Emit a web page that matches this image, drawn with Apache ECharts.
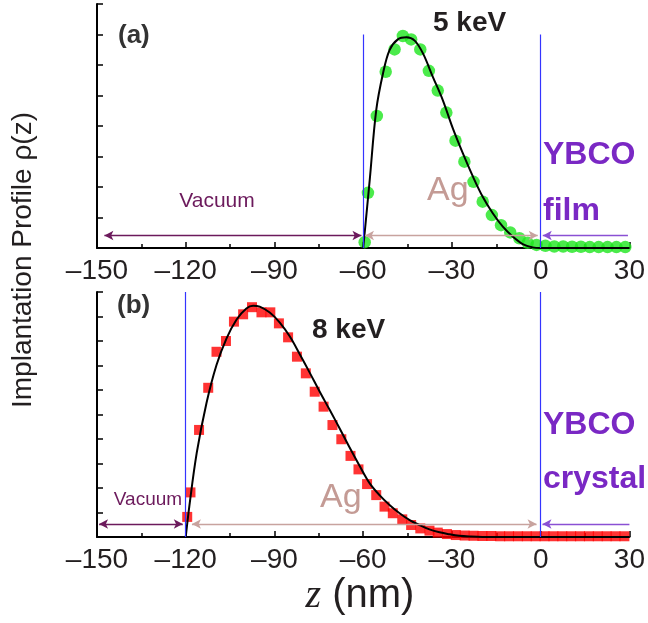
<!DOCTYPE html>
<html><head><meta charset="utf-8">
<script src="https://cdn.jsdelivr.net/npm/echarts@6/dist/echarts.min.js"></script>
<style>html,body{margin:0;padding:0;background:#fff}#c{width:648px;height:623px}</style>
</head><body><div id="c"></div>
<script>
// x-axis ticks (nm)
const xMin = -150, xMax = 30, xStep = 30;
// panel (a): 5 keV, measured points (green) and fit (black)
const greenX = [-59.5,-58.4,-55.4,-52.4,-49.4,-46.6,-43.8,-40.7,-37.8,-34.8,-31.9,-28.8,-25.8,-22.7,-19.6,-16.5,-13.4,-10.3,-7.2,-4.4,-1.4,1.6,4.6,7.6,10.6,13.6,16.6,19.6,22.6,25.6,28.6];
const greenY = [0.19,1.81,4.33,5.78,6.51,6.95,6.84,6.51,5.81,5.16,4.44,3.52,2.83,2.17,1.52,1.08,0.75,0.51,0.32,0.17,0.10,0.07,0.05,0.05,0.04,0.04,0.03,0.03,0.03,0.03,0.03];
const fitAX = [-60,-57.8,-55.6,-53.3,-51.1,-48.3,-45.4,-42.6,-39.8,-36.5,-33.1,-29.7,-26.3,-22.9,-19.6,-16.2,-12.8,-9.4,-6.1,-2.7,0,30];
const fitAY = [0,2.23,4.52,5.73,6.49,6.84,6.91,6.80,6.38,5.62,4.85,3.92,3.10,2.34,1.68,1.14,0.70,0.37,0.13,0.02,0,0];
// panel (b): 8 keV, measured points (red) and fit (black)
const redX = [-119.5,-118.4,-115.5,-112.4,-109.6,-106.4,-103.7,-100.6,-97.6,-94.4,-91.4,-88.5,-85.4,-82.4,-79.4,-76.4,-73.4,-70.4,-67.4,-64.3,-61.6,-58.7,-55.6,-52.8,-50.0,-46.8,-43.8,-40.7,-37.6,-34.8,-31.7,-28.7,-25.7,-22.7,-19.7,-16.7,-13.7,-10.7,-7.7,-4.7,-1.7,1.3,4.3,7.3,10.3,13.3,16.3,19.3,22.3,25.3,28.3];
const redY = [0.82,1.82,4.37,6.09,7.56,8.0,8.79,9.09,9.38,9.17,9.17,8.72,8.15,7.36,6.68,5.93,5.32,4.57,3.99,3.31,2.76,2.16,1.71,1.24,0.97,0.72,0.49,0.35,0.26,0.18,0.12,0.08,0.06,0.05,0.04,0.04,0.03,0.03,0.03,0.03,0.03,0.03,0.03,0.03,0.03,0.03,0.03,0.03,0.03,0.03,0.03];
const fitBX = [-120,-118.8,-116.3,-113.0,-109.6,-106.2,-102.8,-99.5,-97.2,-95.0,-91.6,-88.2,-84.8,-81.5,-78.1,-74.7,-71.3,-68.0,-64.6,-61.2,-57.8,-54.5,-51.1,-47.7,-44.3,-41.0,-37.6,-34.2,-30.8,-27.5,-24.1,-19.7,0,30];
const fitBY = [0,1.24,3.42,5.46,7.02,8.11,8.88,9.33,9.44,9.40,9.16,8.75,8.18,7.47,6.71,5.93,5.18,4.44,3.65,2.90,2.19,1.71,1.31,0.97,0.69,0.49,0.31,0.19,0.11,0.05,0.02,0,0,0];
// region boundaries and arrow spans
const boundA = [-60, 0], boundB = [-120, 0];
const arrowYA = 0.41, arrowYB = 0.53;
const vacA = [-147.5, -60.6], agA = [-59.4, -1.0], ybA = [0.7, 29.5];
const vacB = [-149.3, -121], agB = [-117.9, -1.4], ybB = [0.6, 30];

const zip = (xs, ys) => xs.map((x, i) => [x, ys[i]]);
const SANS = '"Liberation Sans", Arial, Helvetica, sans-serif';
const C_VAC = '#6c1a5c', C_AG = '#c8a39f', C_AGT = '#c49b95', C_YB = '#8a50d4', C_YBT = '#7a28c4', C_BL = '#3434ff';

function xAxis(gi) {
  return {
    type: 'value', gridIndex: gi, min: xMin, max: xMax, interval: xStep,
    axisLine: { show: true, lineStyle: { color: '#000', width: 2 } },
    axisTick: { show: true, inside: true, length: 6, lineStyle: { color: '#000', width: 1.5 } },
    minorTick: { show: true, splitNumber: 2, length: 4, lineStyle: { color: '#000', width: 1.5 } },
    axisLabel: { fontSize: 28, fontFamily: SANS, color: '#231f20', margin: 9,
      formatter: v => (v < 0 ? '\u2013' + Math.abs(v) : String(v)) },
    splitLine: { show: false }
  };
}
function yAxis(gi, max) {
  return {
    type: 'value', gridIndex: gi, min: 0, max: max, interval: 1,
    axisLine: { show: true, onZero: false, lineStyle: { color: '#000', width: 2 } },
    axisTick: { show: true, inside: true, length: 6, lineStyle: { color: '#000', width: 1.5 } },
    axisLabel: { show: false }, splitLine: { show: false }
  };
}
function seg(a, b, y, color, s1, s2) {
  return [{ coord: [a, y], symbol: s1, lineStyle: { color, width: 1.3, type: 'solid' } },
          { coord: [b, y], symbol: s2 }];
}
function vline(x, top) {
  return [{ coord: [x, 0], symbol: 'none', lineStyle: { color: C_BL, width: 1.2, type: 'solid' } },
          { coord: [x, top], symbol: 'none' }];
}
function marks(bounds, top, yA, vac, ag, yb) {
  return {
    silent: true, symbolSize: [7, 9], label: { show: false }, emphasis: { disabled: true },
    data: [vline(bounds[0], top), vline(bounds[1], top),
      seg(vac[0], vac[1], yA, C_VAC, 'arrow', 'arrow'),
      seg(ag[0], ag[1], yA, C_AG, 'arrow', 'arrow'),
      seg(yb[0], yb[1], yA, C_YB, 'arrow', 'none')]
  };
}
function txt(text, x, y, font, color, align) {
  return { type: 'text', x: x, y: y, silent: true,
    style: { text, font, fill: color, textAlign: align || 'left', textVerticalAlign: 'middle' } };
}

const option = {
  animation: false,
  grid: [
    { left: 97, top: 4, width: 533, height: 244 },
    { left: 97, top: 292, width: 533, height: 245 }
  ],
  xAxis: [xAxis(0), xAxis(1)],
  yAxis: [yAxis(0, 8), yAxis(1, 10)],
  series: [
    { type: 'line', xAxisIndex: 0, yAxisIndex: 0, data: [], markLine: marks(boundA, 7, arrowYA, vacA, agA, ybA) },
    { type: 'line', xAxisIndex: 1, yAxisIndex: 1, data: [], markLine: marks(boundB, 10, arrowYB, vacB, agB, ybB) },
    { type: 'scatter', xAxisIndex: 0, yAxisIndex: 0, data: zip(greenX, greenY), symbol: 'circle', symbolSize: 12.5,
      itemStyle: { color: '#1ee61e' }, z: 3 },
    { type: 'scatter', xAxisIndex: 1, yAxisIndex: 1, data: zip(redX, redY), symbol: 'rect', symbolSize: 10,
      itemStyle: { color: '#ff0000' }, z: 3 },
    { type: 'line', xAxisIndex: 0, yAxisIndex: 0, data: zip(fitAX, fitAY), smooth: 0.35, showSymbol: false,
      lineStyle: { color: '#000', width: 2 }, z: 4 },
    { type: 'line', xAxisIndex: 1, yAxisIndex: 1, data: zip(fitBX, fitBY), smooth: 0.35, showSymbol: false,
      lineStyle: { color: '#000', width: 2 }, z: 4 }
  ],
  graphic: [
    txt('(a)', 118, 36, 'bold 26px ' + SANS, '#333'),
    txt('5 keV', 433, 23, 'bold 28px ' + SANS, '#231f20'),
    txt('Vacuum', 217, 201, '21px ' + SANS, C_VAC, 'center'),
    txt('Ag', 427, 191, '34px ' + SANS, C_AGT),
    txt('YBCO', 543, 155, 'bold 32px ' + SANS, C_YBT),
    txt('film', 543, 211, 'bold 32px ' + SANS, C_YBT),
    txt('(b)', 117, 306, 'bold 26px ' + SANS, '#333'),
    txt('8 keV', 312, 330, 'bold 28px ' + SANS, '#231f20'),
    txt('Vacuum', 148, 500, '19px ' + SANS, C_VAC, 'center'),
    txt('Ag', 320, 498, '34px ' + SANS, C_AGT),
    txt('YBCO', 543, 425, 'bold 32px ' + SANS, C_YBT),
    txt('crystal', 543, 479, 'bold 32px ' + SANS, C_YBT),
    { type: 'text', x: 23, y: 260, rotation: Math.PI / 2, silent: true,
      style: { text: 'Implantation Profile \u03c1(z)', font: '28px ' + SANS, fill: '#231f20',
        textAlign: 'center', textVerticalAlign: 'middle' } },
    { type: 'text', x: 360, y: 596, silent: true,
      style: { text: '{z|z}{n|\u00a0(nm)}', fill: '#231f20', textAlign: 'center', textVerticalAlign: 'middle',
        rich: { z: { fontFamily: '"Liberation Serif", "DejaVu Serif", serif', fontStyle: 'italic', fontSize: 40, fill: '#231f20' },
                n: { fontFamily: SANS, fontSize: 40, fill: '#231f20' } } } }
  ]
};
echarts.init(document.getElementById('c')).setOption(option);
</script></body></html>
